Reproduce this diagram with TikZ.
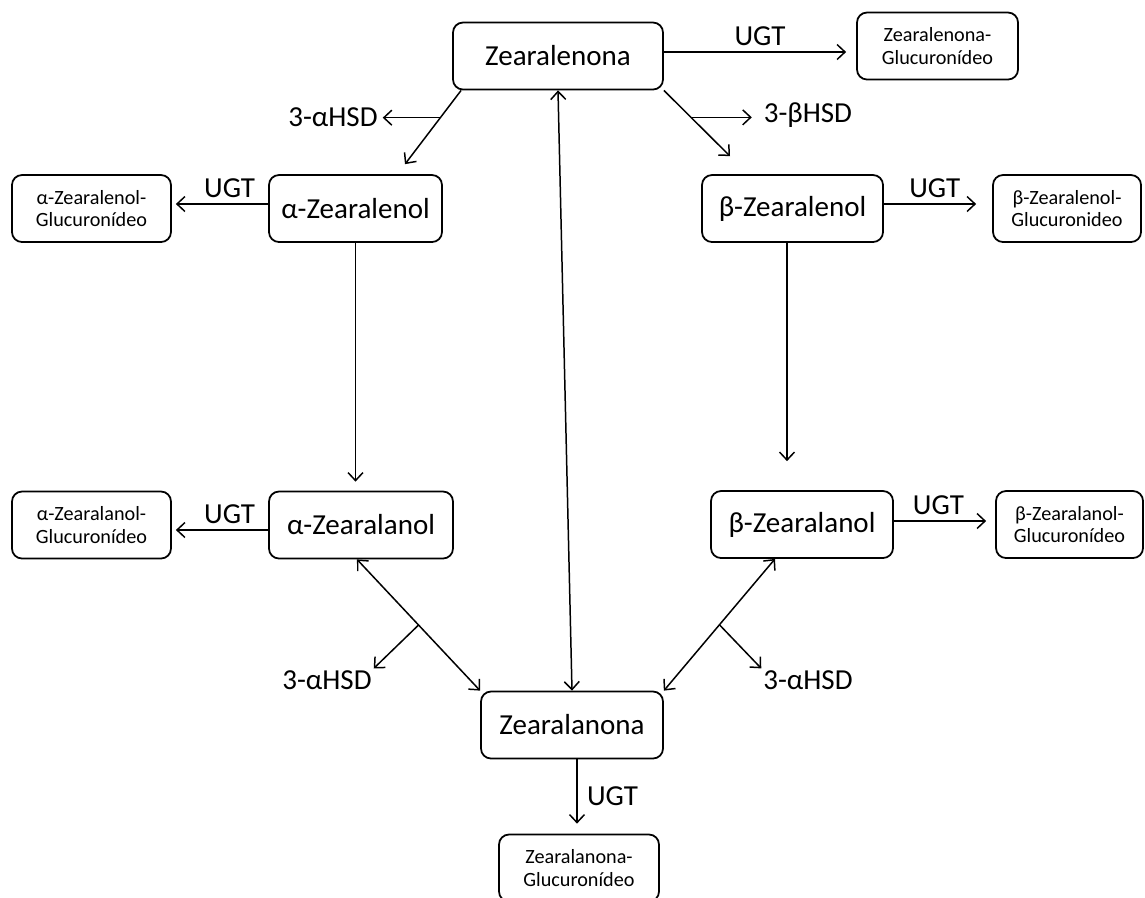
\documentclass[tikz,border=0pt]{standalone}
\usepackage{fontspec}
\setmainfont{Carlito}
\usepackage{tikz}
\usetikzlibrary{arrows.meta, positioning}
\tikzstyle{metab} = [rectangle, rounded corners=0.2cm, minimum height=1.34cm, text centered, draw=black, line width=1pt, font=\fontsize{16.5}{19}\selectfont]
\tikzstyle{conj} = [rectangle, rounded corners=0.2cm, minimum height=1.34cm, align=center, draw=black, line width=1pt, font=\fontsize{11.5}{13}\selectfont]
\tikzstyle{enzyme} = [inner sep=1pt, font=\fontsize{16.5}{19}\selectfont]
\tikzstyle{arrow} = [line width=0.85pt,->,>={Straight Barb[length=1.6mm,width=3mm]}]
\tikzstyle{twoway} = [arrow,<->]

\begin{document}
\begin{tikzpicture}
			\useasboundingbox (-11.16,1.12) rectangle (11.74,-16.82);
			
			\node (zearalenona) [metab, minimum width=4.2cm] {Zearalenona};
			
			\node (zearalenona_gluc) [conj, minimum width=3.22cm, node distance=7.59cm, right of=zearalenona, yshift=0.2cm] {Zearalenona-\\Glucuronídeo};
			
			\node (a_zearalenol) [metab, minimum width=3.46cm, node distance=3.05cm, below of=zearalenona, xshift=-4.05cm] {α-Zearalenol};
			
			\node (a_zearalenol_gluc) [conj, minimum width=3.18cm, node distance=5.28cm, left of=a_zearalenol] {α-Zearalenol-\\Glucuronídeo};
			
			\node (b_zearalenol) [metab, minimum width=3.62cm, node distance=3.05cm, below of=zearalenona, xshift=4.69cm] {β-Zearalenol};
			
			\node (b_zearalenol_gluc) [conj, minimum width=2.96cm, node distance=5.49cm, right of=b_zearalenol] {β-Zearalenol-\\Glucuronideo};
			
			\node (a_zearalanol) [metab, minimum width=3.68cm, node distance=6.33cm, below of=a_zearalenol, xshift=0.11cm] {α-Zearalanol};
			
			\node (a_zearalanol_gluc) [conj, minimum width=3.18cm, node distance=5.39cm, left of=a_zearalanol] {α-Zearalanol-\\Glucuronídeo};
			
			\node (b_zearalanol) [metab, minimum width=3.64cm, node distance=6.32cm, below of=b_zearalenol, xshift=0.19cm] {β-Zearalanol};
			
			\node (b_zearalanol_gluc) [conj, minimum width=2.94cm, node distance=5.35cm, right of=b_zearalanol] {β-Zearalanol-\\Glucuronídeo};
			
			\node (zearalanona) [metab, minimum width=3.64cm, node distance=13.38cm, below of=zearalenona, xshift=0.28cm] {Zearalanona};
			
			\node (zearalanona_gluc) [conj, minimum width=3.2cm, node distance=2.86cm, below of=zearalanona, xshift=0.14cm] {Zearalanona-\\Glucuronídeo};
			
			\node (hsd_a_top) [enzyme, node distance=1.22cm, below of=zearalenona, xshift=-4.5cm] {3-αHSD};
			
			\node (hsd_b_top) [enzyme, node distance=1.18cm, below of=zearalenona, xshift=5.0cm] {3-βHSD};
			
			\node (hsd_a_left) [enzyme, node distance=0.9cm, above of=zearalanona, xshift=-4.9cm] {3-αHSD};
			
			\node (hsd_a_right) [enzyme, node distance=0.9cm, above of=zearalanona, xshift=4.72cm] {3-αHSD};
			
			
			
			
			\draw [arrow, shorten >=0.2cm] ([yshift=0.08cm]zearalenona.east) -- node[enzyme, above=0.08cm] {UGT} ([yshift=0.08cm]zearalenona.east -| zearalenona_gluc.west);
			\draw [arrow] ([xshift=0.18cm]zearalenona.south west) -- coordinate[pos=0.37] (fork_a) ([xshift=0.99cm,yshift=0.2cm]a_zearalenol.north);
			\draw [arrow, shorten >=0.06cm] (fork_a) -- (fork_a -| hsd_a_top.east);
			\draw [arrow] (zearalenona.south east) -- coordinate[pos=0.41] (fork_b) ([xshift=-1.25cm,yshift=0.36cm]b_zearalenol.north);
			\draw [arrow, shorten >=0.2cm] (fork_b) -- (fork_b -| hsd_b_top.west);
			\draw [twoway] (zearalenona.south) -- (zearalanona.north);
			
			\draw [arrow, shorten >=0.08cm] ([yshift=0.09cm]a_zearalenol.west) -- node[enzyme, above=0.08cm, pos=0.4] {UGT} ([yshift=0.09cm]a_zearalenol.west -| a_zearalenol_gluc.east);
			\draw [arrow, shorten >=0.32cm] ([yshift=0.09cm]b_zearalenol.east) -- node[enzyme, above=0.08cm, pos=0.47] {UGT} ([yshift=0.09cm]b_zearalenol.east -| b_zearalenol_gluc.west);
			\draw [arrow, shorten >=0.18cm] (a_zearalenol.south) -- (a_zearalenol.south |- a_zearalanol.north);
			\draw [arrow, shorten >=0.58cm] ([xshift=-0.11cm]b_zearalenol.south) -- ([xshift=-0.11cm]b_zearalenol.south |- b_zearalanol.north);
			
			\draw [arrow, shorten >=0.08cm] ([yshift=-0.1cm]a_zearalanol.west) -- node[enzyme, above=0.08cm, pos=0.4] {UGT} ([yshift=-0.1cm]a_zearalanol.west -| a_zearalanol_gluc.east);
			\draw [arrow, shorten >=0.18cm] ([yshift=0.07cm]b_zearalanol.east) -- node[enzyme, above=0.08cm, pos=0.44] {UGT} ([yshift=0.07cm]b_zearalanol.east -| b_zearalanol_gluc.west);
			\draw [twoway] ([xshift=-0.08cm]a_zearalanol.south) -- coordinate[pos=0.5] (fork_c) (zearalanona.north west);
			\draw [arrow] (fork_c) -- (hsd_a_left.north east);
			\draw [twoway] ([xshift=-0.54cm]b_zearalanol.south) -- coordinate[pos=0.5] (fork_d) (zearalanona.north east);
			\draw [arrow] (fork_d) -- (hsd_a_right.north west);
			
			\draw [arrow, shorten >=0.2cm] ([xshift=0.1cm]zearalanona.south) -- node[enzyme, right=0.15cm] {UGT} ([xshift=0.1cm]zearalanona.south |- zearalanona_gluc.north);
			
		\end{tikzpicture}
\end{document}
